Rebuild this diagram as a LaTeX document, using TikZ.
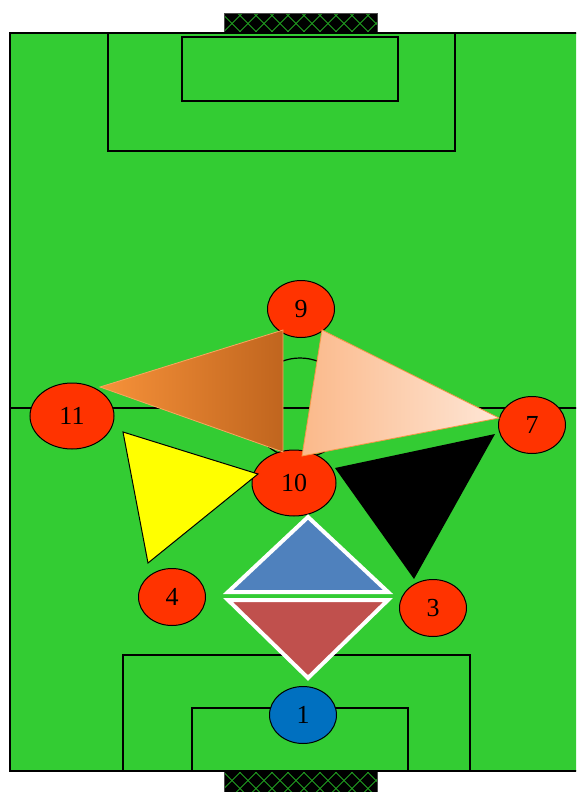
\documentclass[tikz,border=0pt]{standalone}
\usepackage{fontspec}
\setmainfont{Liberation Serif}
\usetikzlibrary{shapes.geometric}
\definecolor{pitch}{HTML}{33CC33}
\definecolor{netgreen}{HTML}{22A022}
\definecolor{player}{HTML}{FF3300}
\definecolor{keeper}{HTML}{0070C0}
\definecolor{orA}{HTML}{F7923A}
\definecolor{orB}{HTML}{C0651E}
\definecolor{orLine}{HTML}{F9A65F}
\definecolor{peA}{HTML}{FBB98A}
\definecolor{peB}{HTML}{FEE6D6}
\definecolor{peLine}{HTML}{F79646}
\definecolor{triBlue}{HTML}{4F81BD}
\definecolor{triRed}{HTML}{C0504D}
\definecolor{triYellow}{HTML}{FFFF00}
\tikzset{
  pline/.style={draw=black, line width=1.2pt},
  plyr/.style={ellipse, draw=black, line width=1pt, fill=player, inner sep=0pt,
    minimum width=67pt, minimum height=57pt, font=\fontsize{26}{26}\selectfont},
  bigplyr/.style={plyr, minimum width=84pt, minimum height=66pt},
  gk/.style={plyr, fill=keeper},
  netline/.style={draw=netgreen, line width=0.9pt},
  wtri/.style={draw=white, line width=4pt, line join=miter}
}
\begin{document}
\begin{tikzpicture}[x=1pt,y=-1pt]
\useasboundingbox (0,0) rectangle (576,792);
\clip (0,0) rectangle (576,792);
\fill[white] (0,0) rectangle (576,792);
% goals with nets
\foreach \ya/\yb in {14/33, 771/800}{
  \begin{scope}
    \fill[black] (224,\ya) rectangle (377,\yb);
    \clip (224,\ya) rectangle (377,\yb);
    \pgfmathsetmacro{\ym}{\ya+9.5}
    \foreach \k in {0,...,10}{
      \pgfmathsetmacro{\c}{232+16*\k}
      \draw[netline] (\c-14,\ym-14) -- (\c+14,\ym+14);
      \draw[netline] (\c-14,\ym+14) -- (\c+14,\ym-14);
    }
  \end{scope}
  \draw[draw=black!70, line width=1pt] (224,\yb) -- (224,\ya) -- (377,\ya) -- (377,\yb);
}
% pitch
\fill[pitch] (10,33) rectangle (590,771);
\draw[pline] (10,33) rectangle (590,771);
\draw[pline] (108,33) rectangle (455,151);
\draw[pline] (182,37) rectangle (398,101);
\draw[pline] (10,408) -- (590,408);
\draw[pline] (300,408) circle[radius=50];
\draw[pline] (123,655) rectangle (470,771);
\draw[pline] (192,708) rectangle (408,771);
% players
\node[plyr] (p9) at (301,309) {9};
\node[bigplyr] (p11) at (72,416) {11};
\node[bigplyr] (p10) at (294,483) {10};
\node[plyr] (p7) at (532,425) {7};
\node[plyr] (p4) at (172,597) {4};
\node[plyr] (p3) at (433,608) {3};
\node[gk] (p1) at (303,715) {1};
% triangles
\shade[left color=orA, right color=orB] (100,387) -- (283,330) -- (283,452) -- cycle;
\draw[orLine, line width=0.8pt] (100,387) -- (283,330) -- (283,452) -- cycle;
\shade[left color=peA, right color=peB] (322,330) -- (499,418) -- (302,456) -- cycle;
\draw[peLine, line width=0.8pt] (322,330) -- (499,418) -- (302,456) -- cycle;
\filldraw[fill=triYellow, draw=black, line width=1pt] (123,432) -- (258,474) -- (148,563) -- cycle;
\fill[black] (335,468) -- (495,434) -- (414,579) -- cycle;
\filldraw[wtri, fill=triBlue] (228,592) -- (388,592) -- (308,517) -- cycle;
\filldraw[wtri, fill=triRed] (228,600) -- (388,600) -- (308,678) -- cycle;
\end{tikzpicture}
\end{document}
